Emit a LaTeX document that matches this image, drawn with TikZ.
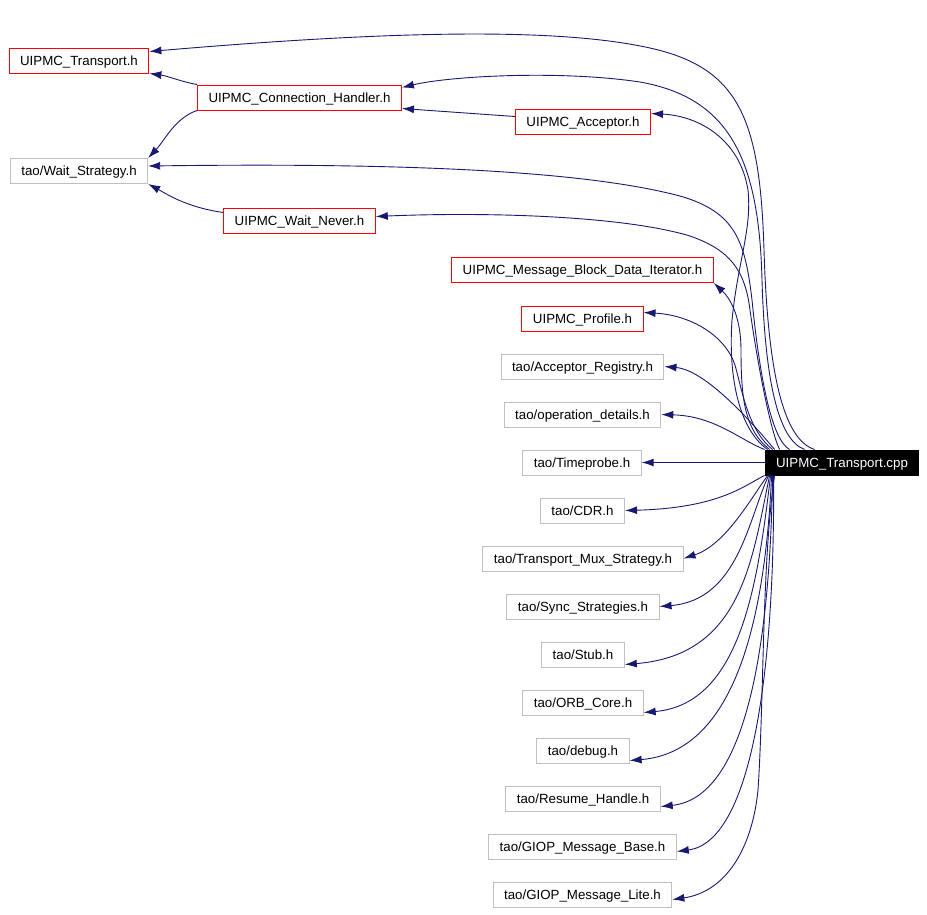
\documentclass[tikz,border=0pt]{standalone}
\usepackage{fontspec}
\setmainfont{Liberation Sans}
\usetikzlibrary{arrows.meta}
\definecolor{edgeblue}{HTML}{191970}
\definecolor{boxgray}{HTML}{BFBFBF}

\begin{document}
\begin{tikzpicture}[x=1pt,y=-1pt]
\tikzset{header/.style = {shape=rectangle,draw=boxgray,line width=1pt,minimum height=25pt,inner xsep=11pt,inner ysep=0pt,text depth=0pt,font=\fontsize{13.3}{16}\selectfont}}
\tikzset{local/.style = {header,draw=red}}
\tikzset{source/.style = {header,draw=black,fill=black,text=white}}
\tikzset{edge/.style = {->,> = {Latex[length=12pt,width=8pt]},draw=edgeblue,line width=0.9pt}}
\useasboundingbox (0,0) rectangle (927,914);
% vertices
\node[local] (tr) at (79,60.5) {UIPMC\_Transport.h};
\node[local] (ch) at (299.5,97.5) {UIPMC\_Connection\_Handler.h};
\node[local] (acc) at (583,121.5) {UIPMC\_Acceptor.h};
\node[header] (ws) at (79,171) {tao/Wait\_Strategy.h};
\node[local] (wn) at (299.5,220.5) {UIPMC\_Wait\_Never.h};
\node[local] (mbdi) at (582.5,270) {UIPMC\_Message\_Block\_Data\_Iterator.h};
\node[local] (prof) at (582.5,318.5) {UIPMC\_Profile.h};
\node[header] (areg) at (582.5,366.5) {tao/Acceptor\_Registry.h};
\node[header] (opd) at (582.5,414.5) {tao/operation\_details.h};
\node[header] (tp) at (582,462.5) {tao/Timeprobe.h};
\node[source] (cpp) at (842,462.5) {UIPMC\_Transport.cpp};
\node[header] (cdr) at (582.5,510.5) {tao/CDR.h};
\node[header] (tms) at (583,558.5) {tao/Transport\_Mux\_Strategy.h};
\node[header] (sync) at (583,606.5) {tao/Sync\_Strategies.h};
\node[header] (stub) at (583,654.5) {tao/Stub.h};
\node[header] (orb) at (583,702.5) {tao/ORB\_Core.h};
\node[header] (dbg) at (583,750.5) {tao/debug.h};
\node[header] (rh) at (583,798.5) {tao/Resume\_Handle.h};
\node[header] (gmb) at (582.5,846.5) {tao/GIOP\_Message\_Base.h};
\node[header] (gml) at (582.5,894.5) {tao/GIOP\_Message\_Lite.h};
%edges
\draw[edge] ([xshift=50pt]cpp.north west) .. controls (785,440) and (768,380) .. (764,250) .. controls (760,120) and (740,68) .. (650,48) .. controls (560,28) and (400,30) .. ([yshift=-4pt]tr.north east);
\draw[edge] ([xshift=40pt]cpp.north west) .. controls (778,440) and (765,380) .. (762,280) .. controls (759,160) and (730,98) .. (640,82) .. controls (560,70) and (450,76) .. ([yshift=-3pt]ch.north east);
\draw[edge] ([xshift=3pt]cpp.north west) .. controls (740,430) and (728,380) .. (732,320) .. controls (738,260) and (752,230) .. (748,190) .. controls (740,140) and (700,116) .. ([yshift=-5pt]acc.north east);
\draw[edge] ([xshift=25pt]cpp.north west) .. controls (772,440) and (760,380) .. (752,300) .. controls (745,240) and (735,212) .. (680,196) .. controls (600,175) and (450,162) .. ([yshift=-8pt]ws.north east);
\draw[edge] ([xshift=15pt]cpp.north west) .. controls (770,430) and (757,360) .. (750,310) .. controls (745,270) and (730,250) .. (690,236) .. controls (620,215) and (480,212) .. ([yshift=-9pt]wn.north east);
\draw[edge] ([xshift=5pt]cpp.north west) .. controls (745,430) and (741,400) .. (741,350) .. controls (741,320) and (732,300) .. (mbdi.south east);
\draw[edge] ([xshift=8pt]cpp.north west) .. controls (748,430) and (742,390) .. (735,365) .. controls (725,335) and (690,315) .. ([yshift=-7pt]prof.north east);
\draw[edge] ([xshift=10pt]cpp.north west) .. controls (750,420) and (705,370) .. (areg.east);
\draw[edge] (cpp.north west) .. controls (740,440) and (715,416) .. (opd.east);
\draw[edge] (cpp.west) -- (tp.east);
\draw[edge] (cpp.south west) .. controls (745,485) and (720,508) .. (cdr.east);
\draw[edge] ([xshift=3pt]cpp.south west) .. controls (750,500) and (725,545) .. (tms.east);
\draw[edge] ([xshift=4pt]cpp.south west) .. controls (748,520) and (738,600) .. (sync.east);
\draw[edge] ([xshift=5pt]cpp.south west) .. controls (752,560) and (742,655) .. ([yshift=3pt]stub.south east);
\draw[edge] ([xshift=6pt]cpp.south west) .. controls (758,580) and (742,704) .. ([yshift=3pt]orb.south east);
\draw[edge] ([xshift=7pt]cpp.south west) .. controls (765,620) and (735,752) .. ([yshift=3pt]dbg.south east);
\draw[edge] ([xshift=8pt]cpp.south west) .. controls (770,650) and (745,798) .. ([yshift=5pt]rh.south east);
\draw[edge] ([xshift=9pt]cpp.south west) .. controls (775,680) and (750,842) .. ([yshift=8pt]gmb.south east);
\draw[edge] ([xshift=10pt]cpp.south west) .. controls (762,560) and (764,700) .. (758,790) .. controls (752,850) and (725,892) .. ([yshift=8pt]gml.south east);
\draw[edge] (ch.north west) .. controls (182,82) and (168,76) .. (tr.south east);
\draw[edge] (ch.south west) .. controls (175,118) and (165,140) .. (ws.north east);
\draw[edge] ([yshift=-8pt]acc.north west) -- ([yshift=2pt]ch.south east);
\draw[edge] ([yshift=-5pt]wn.north west) .. controls (185,207) and (165,193) .. (ws.south east);
\end{tikzpicture}
\end{document}
